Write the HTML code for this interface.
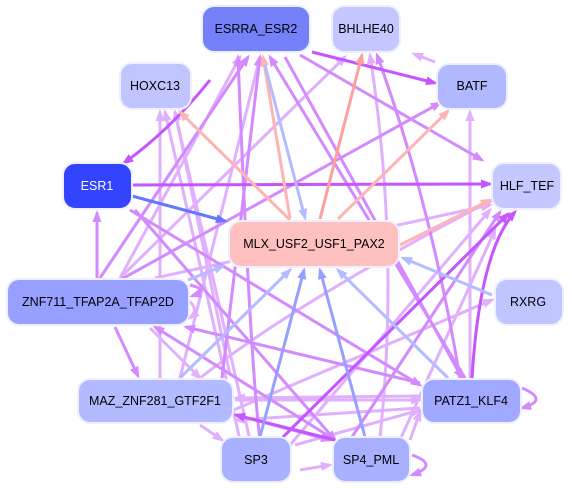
<!DOCTYPE html>
<html><head><meta charset="utf-8"><style>
html,body{margin:0;padding:0;background:#fff;}
svg{display:block;}
text{font-family:"Liberation Sans",sans-serif;font-size:12.5px;text-anchor:middle;dominant-baseline:central;}
.a{stroke:#c455ff;stroke-width:3;fill:none;marker-end:url(#ma);}
.b{stroke:#e0b0ff;stroke-width:3;fill:none;marker-end:url(#mb);}
.c{stroke:#d38aff;stroke-width:3;fill:none;marker-end:url(#mc);}
.p{stroke:#ffb4b4;stroke-width:3;fill:none;marker-end:url(#mp);}
.q{stroke:#ffa0a0;stroke-width:3;fill:none;marker-end:url(#mq);}
.l{stroke:#b4bcff;stroke-width:3;fill:none;marker-end:url(#ml);}
.d{stroke:#96a0ff;stroke-width:3;fill:none;marker-end:url(#md);}
.e{stroke:#6478ff;stroke-width:3;fill:none;marker-end:url(#me);}
rect{stroke:#eef0ff;stroke-width:2;}
</style></head><body>
<svg width="572" height="489" viewBox="0 0 572 489" xmlns="http://www.w3.org/2000/svg">
<defs>
<marker id="ma" markerWidth="4" markerHeight="4" refX="3" refY="2" orient="auto" markerUnits="strokeWidth"><path d="M0,0.5L4,2L0,3.5z" fill="#c455ff"/></marker>
<marker id="mb" markerWidth="4" markerHeight="4" refX="3" refY="2" orient="auto" markerUnits="strokeWidth"><path d="M0,0.5L4,2L0,3.5z" fill="#e0b0ff"/></marker>
<marker id="mc" markerWidth="4" markerHeight="4" refX="3" refY="2" orient="auto" markerUnits="strokeWidth"><path d="M0,0.5L4,2L0,3.5z" fill="#d38aff"/></marker>
<marker id="mp" markerWidth="4" markerHeight="4" refX="3" refY="2" orient="auto" markerUnits="strokeWidth"><path d="M0,0.5L4,2L0,3.5z" fill="#ffb4b4"/></marker>
<marker id="mq" markerWidth="4" markerHeight="4" refX="3" refY="2" orient="auto" markerUnits="strokeWidth"><path d="M0,0.5L4,2L0,3.5z" fill="#ffa0a0"/></marker>
<marker id="ml" markerWidth="4" markerHeight="4" refX="3" refY="2" orient="auto" markerUnits="strokeWidth"><path d="M0,0.5L4,2L0,3.5z" fill="#b4bcff"/></marker>
<marker id="md" markerWidth="4" markerHeight="4" refX="3" refY="2" orient="auto" markerUnits="strokeWidth"><path d="M0,0.5L4,2L0,3.5z" fill="#96a0ff"/></marker>
<marker id="me" markerWidth="4" markerHeight="4" refX="3" refY="2" orient="auto" markerUnits="strokeWidth"><path d="M0,0.5L4,2L0,3.5z" fill="#6478ff"/></marker>
</defs>
<path class="b" d="M120,278 L345,57"/>
<path class="b" d="M155,278 L490,205"/>
<path class="b" d="M160,378 L160,112"/>
<path class="b" d="M240,440 L165,112"/>
<path class="b" d="M250,440 L175,112"/>
<path class="b" d="M470,378 L470,112"/>
<path class="b" d="M435,62 L414,54"/>
<path class="b" d="M200,378 Q300,300 492,200"/>
<path class="b" d="M210,420 L492,300"/>
<path class="b" d="M290,445 L490,210"/>
<path class="b" d="M400,440 L495,230"/>
<path class="b" d="M380,437 Q400,250 370,55"/>
<path class="b" d="M410,440 L420,412"/>
<path class="b" d="M300,470 L330,465"/>
<path class="b" d="M235,400 L420,400"/>
<path class="b" d="M420,396 L236,398"/>
<path class="b" d="M420,408 L236,420"/>
<path class="b" d="M295,445 L420,410"/>
<path class="b" d="M150,328 L200,378"/>
<path class="b" d="M120,278 L240,57"/>
<path class="b" d="M180,378 L260,57"/>
<path class="b" d="M188,300 Q200,310 190,318"/>
<path class="b" d="M200,425 L222,440"/>
<path class="b" d="M230,375 L175,112"/>
<path class="c" d="M100,278 L248,57"/>
<path class="c" d="M120,280 L440,103"/>
<path class="c" d="M130,210 L420,385"/>
<path class="c" d="M135,210 L335,440"/>
<path class="c" d="M300,55 L482,160"/>
<path class="c" d="M285,57 L462,378"/>
<path class="c" d="M465,378 L270,57"/>
<path class="c" d="M460,378 Q430,200 377,55"/>
<path class="c" d="M420,383 L186,327"/>
<path class="c" d="M335,440 L155,327"/>
<path class="c" d="M220,395 L260,57"/>
<path class="c" d="M97,278 L97,213"/>
<path class="c" d="M115,327 L138,376"/>
<path class="c" d="M260,440 Q250,360 238,57"/>
<path class="c" d="M190,285 Q210,290 192,296"/>
<path class="c" d="M236,415 L330,440"/>
<path class="c" d="M350,440 L500,212"/>
<path class="c" d="M522,388 Q550,400 522,408"/>
<path class="c" d="M412,455 Q440,465 412,475"/>
<path class="a" d="M312,52 L435,83"/>
<path class="a" d="M132,185 L490,184"/>
<path class="a" d="M210,80 Q170,130 124,163"/>
<path class="a" d="M472,378 Q480,250 515,212"/>
<path class="a" d="M280,440 L508,214"/>
<path class="a" d="M335,440 L236,415"/>
<path class="p" d="M290,220 L180,112"/>
<path class="p" d="M290,218 L263,57"/>
<path class="p" d="M338,219 L448,111"/>
<path class="p" d="M400,245 L490,200"/>
<path class="q" d="M320,219 L362,55"/>
<path class="l" d="M265,65 L305,218"/>
<path class="l" d="M492,295 L403,258"/>
<path class="l" d="M188,280 L223,266"/>
<path class="l" d="M180,378 L290,270"/>
<path class="d" d="M260,437 L304,270"/>
<path class="d" d="M365,437 L320,270"/>
<path class="l" d="M448,378 L338,270"/>
<path class="e" d="M132,196 L225,221"/>
<rect x="202" y="6" width="108" height="46" rx="12" fill="#7581f9"/><text x="256" y="29">ESRRA_ESR2</text>
<rect x="332" y="6" width="68" height="46" rx="12" fill="#c4c8ff"/><text x="366" y="29">BHLHE40</text>
<rect x="120" y="63" width="71" height="46" rx="12" fill="#c0c5ff"/><text x="155" y="86">HOXC13</text>
<rect x="437" y="64" width="70" height="45" rx="12" fill="#b0b8ff"/><text x="472" y="86">BATF</text>
<rect x="63" y="163" width="69" height="46" rx="12" fill="#3344ff"/><text x="97" y="186" fill="#fff">ESR1</text>
<rect x="492" y="163" width="69" height="46" rx="12" fill="#c4c8ff"/><text x="527" y="186">HLF_TEF</text>
<rect x="229" y="221" width="170" height="46" rx="12" fill="#ffc0c0"/><text x="314" y="244">MLX_USF2_USF1_PAX2</text>
<rect x="7" y="279" width="182" height="46" rx="12" fill="#98a0ff"/><text x="98" y="302">ZNF711_TFAP2A_TFAP2D</text>
<rect x="495" y="279" width="68" height="46" rx="12" fill="#c0c5ff"/><text x="528" y="302">RXRG</text>
<rect x="78" y="379" width="155" height="44" rx="12" fill="#b4baff"/><text x="155" y="401">MAZ_ZNF281_GTF2F1</text>
<rect x="422" y="379" width="99" height="44" rx="12" fill="#a0a8ff"/><text x="471" y="401">PATZ1_KLF4</text>
<rect x="221" y="437" width="70" height="45" rx="12" fill="#a8b0ff"/><text x="256" y="460">SP3</text>
<rect x="333" y="437" width="77" height="45" rx="12" fill="#a8b0ff"/><text x="371" y="460">SP4_PML</text>
</svg>
</body></html>
